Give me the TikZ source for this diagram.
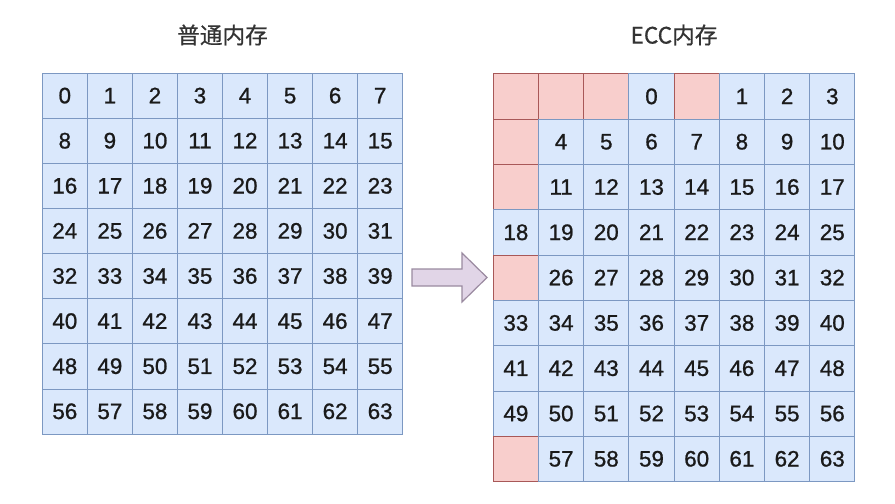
\documentclass[tikz,border=0pt]{standalone}
\usepackage{fontspec}
\setmainfont{Liberation Sans}
\newfontfamily\numfont{Liberation Sans}[FakeBold=0.9]
\newfontfamily\cjk{Noto Sans CJK SC}[FakeBold=0.6]
\definecolor{cellfill}{HTML}{DAE8FC}
\definecolor{celldraw}{HTML}{7C98C2}
\definecolor{eccfill}{HTML}{F8CECC}
\definecolor{eccdraw}{HTML}{A85858}
\definecolor{arrowfill}{HTML}{E1D5E7}
\definecolor{arrowdraw}{HTML}{9A8AA0}
\definecolor{txt}{HTML}{1A1A1A}
\tikzset{
  cellL/.style={draw=celldraw, fill=cellfill, line width=0.75pt, inner sep=0pt,
    minimum width=33.79pt, minimum height=33.825pt, text=txt,
    text height=11.2pt, text depth=0pt,
    font=\numfont\fontsize{16.8}{19}\selectfont},
  cellR/.style={cellL, minimum width=33.9pt, minimum height=33.975pt},
  eccbox/.style={cellR, draw=eccdraw, fill=eccfill},
  title/.style={text=black!80, font=\cjk\fontsize{17}{20}\selectfont},
  bigarrow/.style={draw=arrowdraw, fill=arrowfill, line width=0.9pt, line join=miter}
}
\begin{document}
\begin{tikzpicture}[x=0.75pt,y=-0.75pt]
\useasboundingbox (0,0) rectangle (895,503);
% titles
\node[title] (t1) at (222.5,35) {普通内存};
\node[title] (t2) at (674,35) {ECC内存};
% left grid
\foreach \j in {0,...,7}{
  \foreach \i in {0,...,7}{
    \pgfmathtruncatemacro{\n}{8*\j+\i}
    \node[cellL] (L-\j-\i) at ({42.3+45.05*(\i+0.5)},{73.3+45.1*(\j+0.5)}) {\n};
  }
}
% right grid
\def\xx{x}
\foreach \row [count=\j from 0] in {
  {x,x,x,0,x,1,2,3},
  {x,4,5,6,7,8,9,10},
  {x,11,12,13,14,15,16,17},
  {18,19,20,21,22,23,24,25},
  {x,26,27,28,29,30,31,32},
  {33,34,35,36,37,38,39,40},
  {41,42,43,44,45,46,47,48},
  {49,50,51,52,53,54,55,56},
  {x,57,58,59,60,61,62,63}}{
  \foreach \v [count=\i from 0] in \row {
    \ifx\v\xx
      \node[eccbox] (R-\j-\i) at ({493.3+45.2*(\i+0.5)},{74+45.3*(\j+0.5)}) {};
    \else
      \node[cellR] (R-\j-\i) at ({493.3+45.2*(\i+0.5)},{74+45.3*(\j+0.5)}) {\v};
    \fi
  }
}
% arrow
\draw[bigarrow] (412,269) -- (462,269) -- (462,253) -- (487,277.5)
  -- (462,302) -- (462,286) -- (412,286) -- cycle;
\end{tikzpicture}
\end{document}
